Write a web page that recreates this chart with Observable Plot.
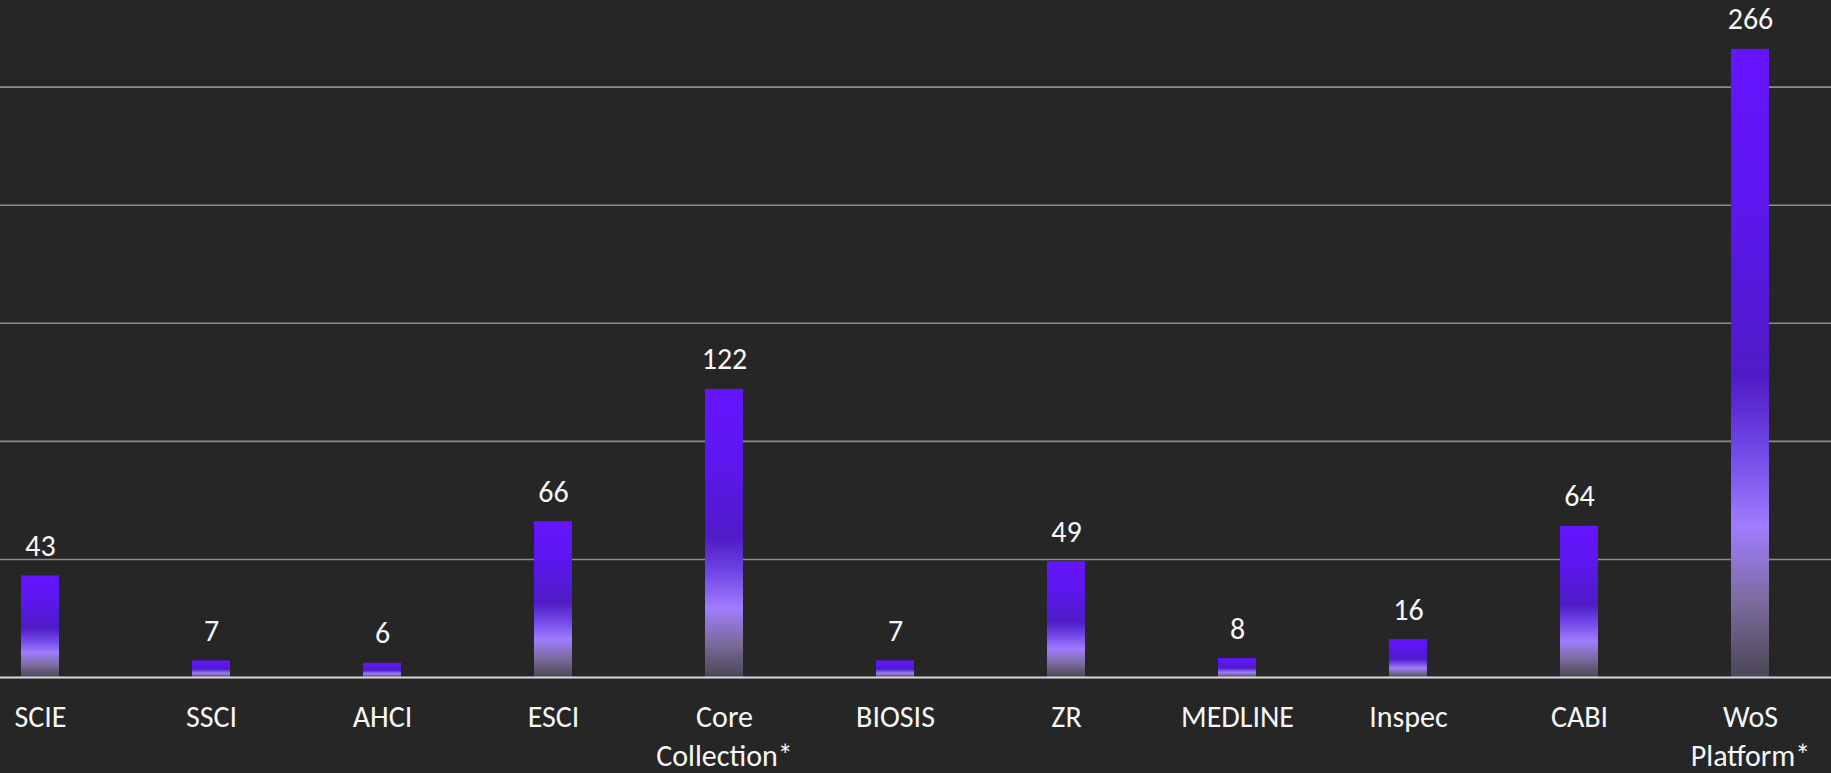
<!DOCTYPE html>
<html><head><meta charset="utf-8">
<script src="https://cdn.jsdelivr.net/npm/d3@7"></script>
<script src="https://cdn.jsdelivr.net/npm/@observablehq/plot@0.6"></script>
<style>html,body{margin:0;padding:0;background:#262626;overflow:hidden}</style>
</head><body><div id="chart"></div>
<script>
const categories = ["SCIE","SSCI","AHCI","ESCI","Core Collection*","BIOSIS","ZR","MEDLINE","Inspec","CABI","WoS Platform*"];
const values = [43,7,6,66,122,7,49,8,16,64,266];
const gridTicks = [50,100,150,200,250];
const data = categories.map((c,i)=>({category:c, value:values[i]}));
const font = "Carlito, Calibri, Lato, 'Open Sans', sans-serif";
const chart = Plot.plot({
  width:1831, height:773, marginTop:0, marginRight:0, marginBottom:0, marginLeft:0,
  style:{background:"#262626", color:"#f2f2f2", fontFamily:font},
  x:{domain:categories, range:[-46.6,1837.7], paddingInner:0.775, paddingOuter:0.3875, axis:null},
  y:{domain:[0,286.7], range:[677,0], axis:null},
  marks:[
    Plot.ruleY(gridTicks,{stroke:"#8c8c8c", strokeWidth:1.6}),
    Plot.barY(data,{x:"category", y:"value", fill:"url(#barGrad)"}),
    Plot.ruleY([0],{stroke:"#d9d9d9", strokeWidth:2}),
    Plot.text(data,{x:"category", y:"value", text:d=>String(d.value), dy:-20, lineAnchor:"bottom", fontSize:30, fill:"#f6f6f6"}),
    Plot.text(categories,{x:d=>d, y:()=>0, text:d=>d.replace(" ","\n"), lineAnchor:"top", dy:22, lineHeight:1.3, fontSize:30, fill:"#f6f6f6"})
  ]
});
const ns="http://www.w3.org/2000/svg";
const defs=document.createElementNS(ns,"defs");
defs.innerHTML = `<linearGradient id="barGrad" x1="0" y1="0" x2="0" y2="1">
<stop offset="0" stop-color="#6614ff"/>
<stop offset="0.25" stop-color="#5c17ee"/>
<stop offset="0.52" stop-color="#4f1bc6"/>
<stop offset="0.63" stop-color="#6e44e4"/>
<stop offset="0.76" stop-color="#a07cff"/>
<stop offset="0.88" stop-color="#7c6c9e"/>
<stop offset="1" stop-color="#4b4755"/>
</linearGradient>`;
chart.insertBefore(defs, chart.firstChild);
document.getElementById("chart").appendChild(chart);
</script>
</body></html>
